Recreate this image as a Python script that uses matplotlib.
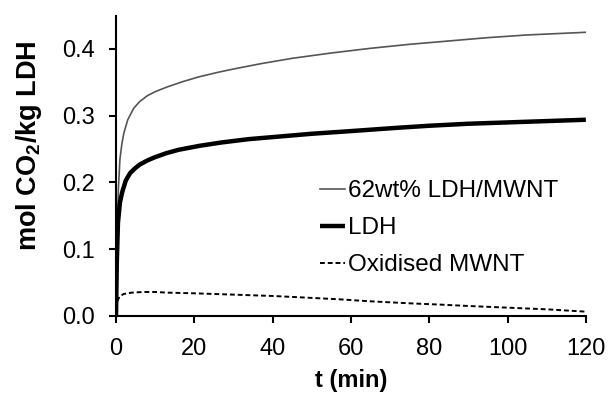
import matplotlib
matplotlib.use("Agg")
import matplotlib.pyplot as plt

plt.rcParams['font.family'] = ['Liberation Sans', 'DejaVu Sans']
plt.rcParams['mathtext.fontset'] = 'custom'
plt.rcParams['mathtext.bf'] = 'Liberation Sans:bold'
plt.rcParams['mathtext.rm'] = 'Liberation Sans:bold'
plt.rcParams['mathtext.default'] = 'bf'

# Data
t_comp = [0, 0.3, 0.6, 1.0, 1.5, 2, 3, 4.5, 6, 8, 10, 13, 17, 21, 26, 30, 37, 45, 55, 65, 75, 85, 95, 105, 120]
co2_comp = [0, 0.12, 0.19, 0.235, 0.258, 0.274, 0.294, 0.311, 0.321, 0.330, 0.336, 0.343, 0.351, 0.358,
            0.365, 0.370, 0.378, 0.386, 0.394, 0.401, 0.407, 0.412, 0.417, 0.421, 0.425]

t_ldh = [0, 0.2, 0.5, 1.0, 1.6, 2.5, 3.6, 5, 6.1, 8, 10, 12.9, 16, 21.4, 27, 34, 40, 50, 60, 72, 80, 90, 100, 110, 120]
co2_ldh = [0, 0.08, 0.14, 0.17, 0.186, 0.203, 0.214, 0.222, 0.227, 0.233, 0.238, 0.244, 0.249, 0.255,
           0.26, 0.265, 0.268, 0.273, 0.277, 0.282, 0.285, 0.288, 0.290, 0.292, 0.294]

t_mwnt = [0.3, 1, 2, 4, 7, 10, 13, 20, 30, 40, 47, 57, 65, 75, 83, 90, 100, 110, 120]
co2_mwnt = [0.022, 0.030, 0.033, 0.035, 0.036, 0.036, 0.035, 0.034, 0.032, 0.030, 0.028, 0.025,
            0.022, 0.019, 0.017, 0.015, 0.0125, 0.010, 0.0065]

labels = ['62wt% LDH/MWNT', 'LDH', 'Oxidised MWNT']
x_ticks = [0, 20, 40, 60, 80, 100, 120]
y_ticks = [0.0, 0.1, 0.2, 0.3, 0.4]

fig = plt.figure(figsize=(6.09, 3.95), dpi=100)
ax = fig.add_axes([0.1905, 0.2, 0.962 - 0.1905, 0.7605])

ax.plot(t_comp, co2_comp, color='#555555', lw=1.2, label=labels[0])
ax.plot(t_ldh, co2_ldh, color='black', lw=3.2, label=labels[1], solid_capstyle='butt')
ax.plot(t_mwnt, co2_mwnt, color='black', lw=1.4, ls=(0, (2.5, 1.5)), label=labels[2])

ax.set_xlim(0, 120)
ax.set_ylim(0, 0.45)
ax.set_xticks(x_ticks)
ax.set_xticklabels([str(v) for v in x_ticks])
ax.set_yticks(y_ticks)
ax.set_yticklabels([f'{v:.1f}' for v in y_ticks])

for s in ['top', 'right']:
    ax.spines[s].set_visible(False)
for s in ['left', 'bottom']:
    ax.spines[s].set_linewidth(1.5)

ax.tick_params(axis='both', direction='out', length=5, width=1.5, labelsize=17)
ax.tick_params(axis='y', pad=10)
ax.tick_params(axis='x', pad=11)

ax.set_xlabel('t (min)', fontsize=17, fontweight='bold', labelpad=6)
ax.set_ylabel(r'mol CO$_2$/kg LDH', fontsize=19.5, fontweight='bold')
ax.yaxis.set_label_coords(-0.153, 0.566)

leg = ax.legend(loc='center left', bbox_to_anchor=(0.435, 0.292), frameon=False,
                fontsize=17.5, handlelength=1.0, handletextpad=0.15, labelspacing=0.62,
                borderpad=0, borderaxespad=0)

fig.savefig('out.png', dpi=100)
